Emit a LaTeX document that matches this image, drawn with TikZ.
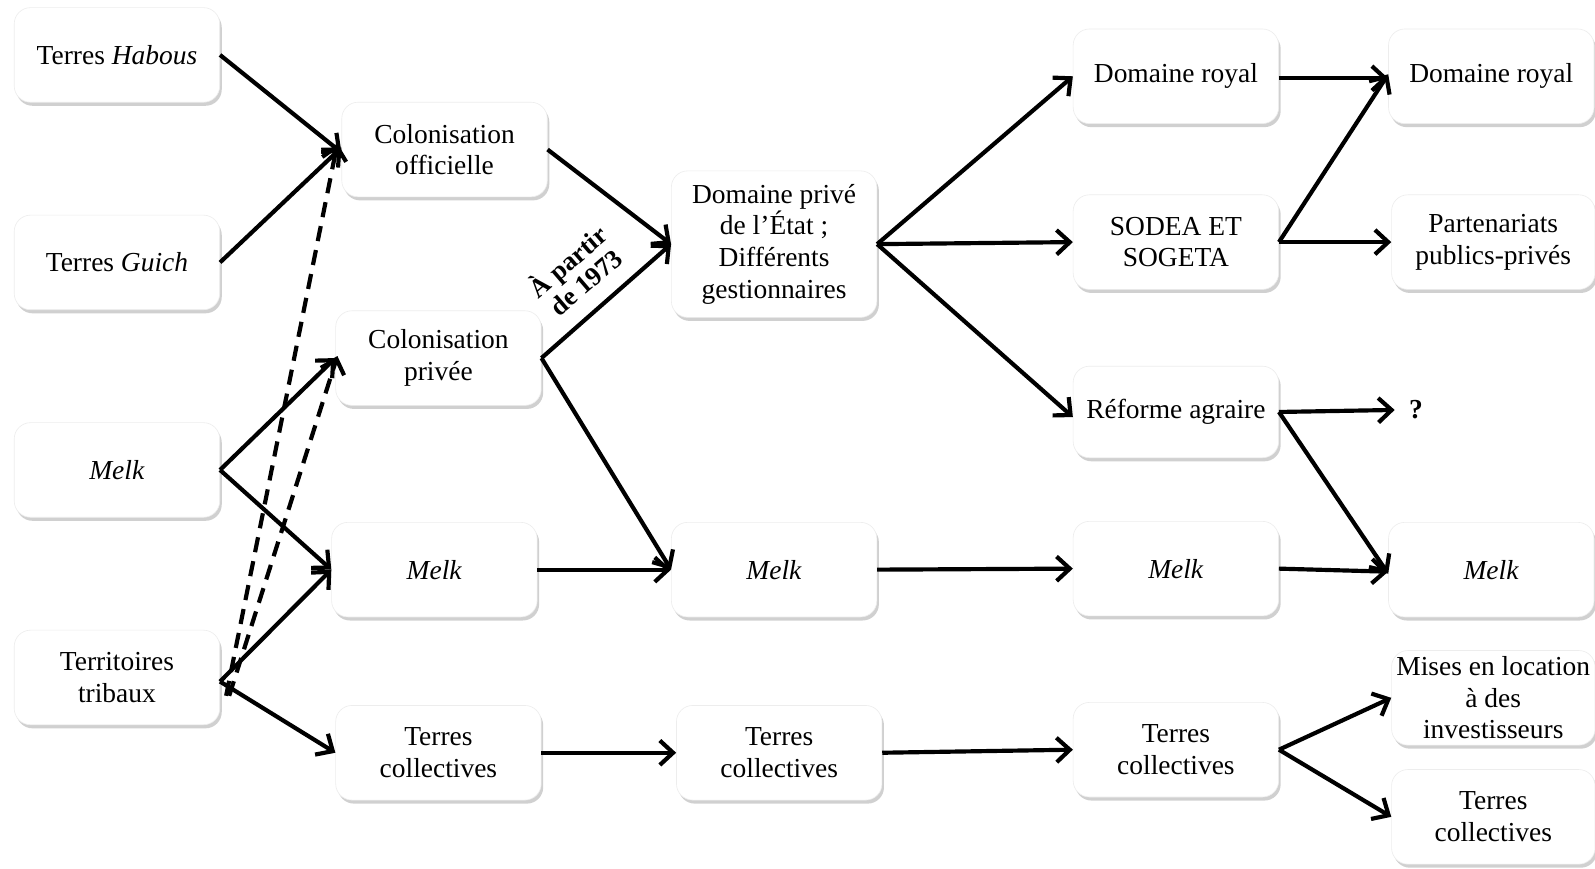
\documentclass[tikz,border=0pt]{standalone}
\usepackage{fontspec}
\setmainfont{Liberation Serif}
\usetikzlibrary{arrows.meta,shadows}
\begin{document}
\begin{tikzpicture}[x=1pt,y=-1pt,
  box/.style={draw=black!7, line width=0.6pt, fill=white, rounded corners=16pt,
    minimum width=202pt, minimum height=93pt, align=center, inner sep=0pt,
    font=\fontsize{27}{31}\selectfont,
    drop shadow={shadow xshift=2pt, shadow yshift=-3.5pt, opacity=0.3, fill=black!60}},
  plain/.style={align=center, inner sep=0pt, font=\fontsize{27}{31}\selectfont\bfseries},
  arr/.style={line width=4.1pt, -{Straight Barb[length=13pt,width=24pt,line width=4.1pt]}},
  dasharr/.style={arr, dash pattern=on 15pt off 9pt}]
\fill[white] (0,0) rectangle (1568,854);
\useasboundingbox (0,0) rectangle (1568,854);
% column 1
\node[box] (hab)   at (115,54)  {Terres \textit{Habous}};
\node[box] (guich) at (115,258) {Terres \textit{Guich}};
\node[box] (melkA) at (115,462) {\textit{Melk}};
\node[box] (terr)  at (115,666) {Territoires\\tribaux};
% column 2
\node[box] (colo)  at (437,147) {Colonisation\\officielle};
\node[box] (colp)  at (431,352) {Colonisation\\privée};
\node[box] (melkB) at (427,560) {\textit{Melk}};
\node[box] (tcolB) at (431,740) {Terres\\collectives};
% column 3
\node[box, minimum height=144pt] (dpe) at (761,240) {Domaine privé\\de l’État ;\\Différents\\gestionnaires};
\node[box] (melkC) at (761,560) {\textit{Melk}};
\node[box] (tcolC) at (766,740) {Terres\\collectives};
% column 4
\node[box] (drA)   at (1156,75)  {Domaine royal};
\node[box] (sodea) at (1156,238) {SODEA ET\\SOGETA};
\node[box, minimum height=90pt] (ref) at (1156,405) {Réforme agraire};
\node[box] (melkD) at (1156,559) {\textit{Melk}};
\node[box] (tcolD) at (1156,737) {Terres\\collectives};
% column 5
\node[box] (drB)   at (1466,75)  {Domaine royal};
\node[box, minimum width=200pt] (ppp) at (1468,238) {Partenariats\\publics-privés};
\node[plain] (q) at (1392,403) {?};
\node[box] (melkE) at (1466,560) {\textit{Melk}};
\node[box, minimum width=200pt] (mises) at (1468,686) {Mises en location\\à des\\investisseurs};
\node[box, minimum width=200pt] (tcolE) at (1468,803) {Terres\\collectives};
% label
\node[plain, rotate=40.7, font=\fontsize{26}{27}\selectfont\bfseries] (lab) at (566,266) {À partir\\de 1973};
% connectors
\coordinate (terrd) at ([xshift=6pt,yshift=-18pt]terr.east);
\draw[arr] (hab.east) -- ([yshift=-3pt]colo.west);
\draw[arr] (guich.east) -- ([yshift=2pt]colo.west);
\draw[dasharr] (terrd) -- ([xshift=-4pt,yshift=6pt]colo.west);
\draw[dasharr] ([xshift=3pt]terrd) -- ([xshift=2pt,yshift=2pt]colp.west);
\draw[arr] (melkA.east) -- (colp.west);
\draw[arr] (melkA.east) -- (melkB.west);
\draw[arr] ([yshift=-4pt]terr.east) -- (melkB.west);
\draw[arr] ([yshift=-4pt]terr.east) -- (tcolB.west);
\draw[arr] (colo.east) -- (dpe.west);
\draw[arr] (colp.east) -- (dpe.west);
\draw[arr] (colp.east) -- (melkC.west);
\draw[arr] (melkB.east) -- (melkC.west);
\draw[arr] (tcolB.east) -- (tcolC.west);
\draw[arr] (dpe.east) -- (drA.west);
\draw[arr] (dpe.east) -- (sodea.west);
\draw[arr] (dpe.east) -- ([yshift=-5pt]ref.west);
\draw[arr] (melkC.east) -- (melkD.west);
\draw[arr] (tcolC.east) -- (tcolD.west);
\draw[arr] ([yshift=-2pt]drA.east) -- ([yshift=-2pt]drB.west);
\draw[arr] (sodea.east) -- ([yshift=2pt]drB.west);
\draw[arr] (sodea.east) -- (ppp.west);
\draw[arr] (ref.east) -- ([xshift=-14pt]q.west);
\draw[arr] (ref.east) -- ([yshift=-4pt]melkE.west);
\draw[arr] (melkD.east) -- ([yshift=-2pt]melkE.west);
\draw[arr] (tcolD.east) -- (mises.west);
\draw[arr] (tcolD.east) -- (tcolE.west);
\end{tikzpicture}
\end{document}
